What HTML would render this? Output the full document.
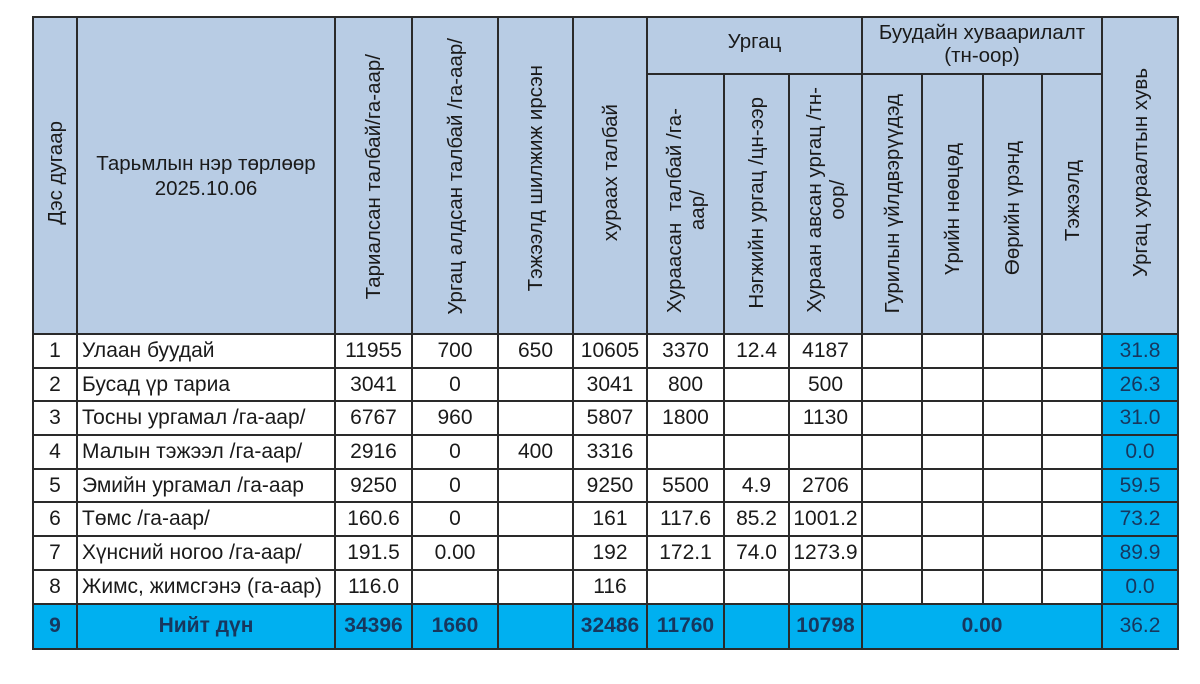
<!DOCTYPE html>
<html><head><meta charset="utf-8"><style>
body{margin:0;background:#fff;width:1200px;height:684px;overflow:hidden;font-family:"Liberation Sans",Arial,sans-serif;}
table{position:absolute;left:32px;top:16px;border-collapse:collapse;table-layout:fixed;width:1145px;}
td{border:2px solid #2a2a2a;padding:0;text-align:center;font-size:21px;color:#1a1a1a;overflow:hidden;white-space:nowrap;}
.h{background:#b8cce4;font-size:20.5px;}
.v{writing-mode:vertical-rl;transform:rotate(180deg);display:inline-block;line-height:23px;text-align:center;}
tr.d td{height:31.7px;}
td.n{text-align:left;padding-left:4px;}
td.b{background:#00b0f0;color:#17375e;}
tr.t td{background:#00b0f0;color:#17375e;font-weight:bold;height:43px;}
tr.t td.l{font-weight:normal;}
</style></head><body>
<table>
<colgroup><col style="width:44px"><col style="width:258px"><col style="width:77px"><col style="width:86px"><col style="width:75px"><col style="width:74px"><col style="width:77px"><col style="width:65px"><col style="width:73px"><col style="width:60px"><col style="width:61px"><col style="width:59px"><col style="width:60px"><col style="width:76px"></colgroup>
<tr style="height:57px">
<td class="h" rowspan="2"><span class="v">Дэс дугаар</span></td>
<td class="h" rowspan="2" style="line-height:25px">Тарьмлын нэр төрлөөр<br>2025.10.06</td>
<td class="h" rowspan="2" style="vertical-align:bottom;padding-bottom:28px"><span class="v">Тариалсан талбай/га-аар/</span></td>
<td class="h" rowspan="2" style="vertical-align:bottom;padding-bottom:12px"><span class="v">Ургац алдсан талбай /га-аар/</span></td>
<td class="h" rowspan="2" style="vertical-align:bottom;padding-bottom:36px"><span class="v">Тэжээлд шилжиж ирсэн</span></td>
<td class="h" rowspan="2"><span class="v">хураах талбай</span></td>
<td class="h" colspan="3" style="vertical-align:top;padding-top:12px">Ургац</td>
<td class="h" colspan="4" style="line-height:23px;vertical-align:top;padding-top:3px">Буудайн хуваарилалт<br>(тн-оор)</td>
<td class="h" rowspan="2"><span class="v">Ургац хураалтын хувь</span></td>
</tr>
<tr style="height:260px">
<td class="h" style="vertical-align:bottom;padding-bottom:14px"><span class="v">Хураасан&nbsp; талбай /га-<br>аар/</span></td>
<td class="h" style="vertical-align:bottom;padding-bottom:18px"><span class="v">Нэгжийн ургац /цн-ээр</span></td>
<td class="h" style="vertical-align:bottom;padding-bottom:14px"><span class="v">Хураан авсан ургац /тн-<br>оор/</span></td>
<td class="h" style="vertical-align:bottom;padding-bottom:14px"><span class="v">Гурилын үйлдвэрүүдэд</span></td>
<td class="h" style="vertical-align:bottom;padding-bottom:52px"><span class="v">Үрийн нөөцөд</span></td>
<td class="h" style="vertical-align:bottom;padding-bottom:52px"><span class="v">Өөрийн үрэнд</span></td>
<td class="h" style="vertical-align:bottom;padding-bottom:86px"><span class="v">Тэжээлд</span></td>
</tr>
<tr class="d"><td>1</td><td class="n">Улаан буудай</td><td>11955</td><td>700</td><td>650</td><td>10605</td><td>3370</td><td>12.4</td><td>4187</td><td></td><td></td><td></td><td></td><td class="b">31.8</td></tr>
<tr class="d"><td>2</td><td class="n">Бусад үр тариа</td><td>3041</td><td>0</td><td></td><td>3041</td><td>800</td><td></td><td>500</td><td></td><td></td><td></td><td></td><td class="b">26.3</td></tr>
<tr class="d"><td>3</td><td class="n">Тосны ургамал /га-аар/</td><td>6767</td><td>960</td><td></td><td>5807</td><td>1800</td><td></td><td>1130</td><td></td><td></td><td></td><td></td><td class="b">31.0</td></tr>
<tr class="d"><td>4</td><td class="n">Малын тэжээл /га-аар/</td><td>2916</td><td>0</td><td>400</td><td>3316</td><td></td><td></td><td></td><td></td><td></td><td></td><td></td><td class="b">0.0</td></tr>
<tr class="d"><td>5</td><td class="n">Эмийн ургамал /га-аар</td><td>9250</td><td>0</td><td></td><td>9250</td><td>5500</td><td>4.9</td><td>2706</td><td></td><td></td><td></td><td></td><td class="b">59.5</td></tr>
<tr class="d"><td>6</td><td class="n">Төмс /га-аар/</td><td>160.6</td><td>0</td><td></td><td>161</td><td>117.6</td><td>85.2</td><td>1001.2</td><td></td><td></td><td></td><td></td><td class="b">73.2</td></tr>
<tr class="d"><td>7</td><td class="n">Хүнсний ногоо /га-аар/</td><td>191.5</td><td>0.00</td><td></td><td>192</td><td>172.1</td><td>74.0</td><td>1273.9</td><td></td><td></td><td></td><td></td><td class="b">89.9</td></tr>
<tr class="d"><td>8</td><td class="n">Жимс, жимсгэнэ (га-аар)</td><td>116.0</td><td></td><td></td><td>116</td><td></td><td></td><td></td><td></td><td></td><td></td><td></td><td class="b">0.0</td></tr>
<tr class="t"><td>9</td><td>Нийт дүн</td><td>34396</td><td>1660</td><td></td><td>32486</td><td>11760</td><td></td><td>10798</td><td colspan="4">0.00</td><td class="l">36.2</td></tr>
</table>
</body></html>
